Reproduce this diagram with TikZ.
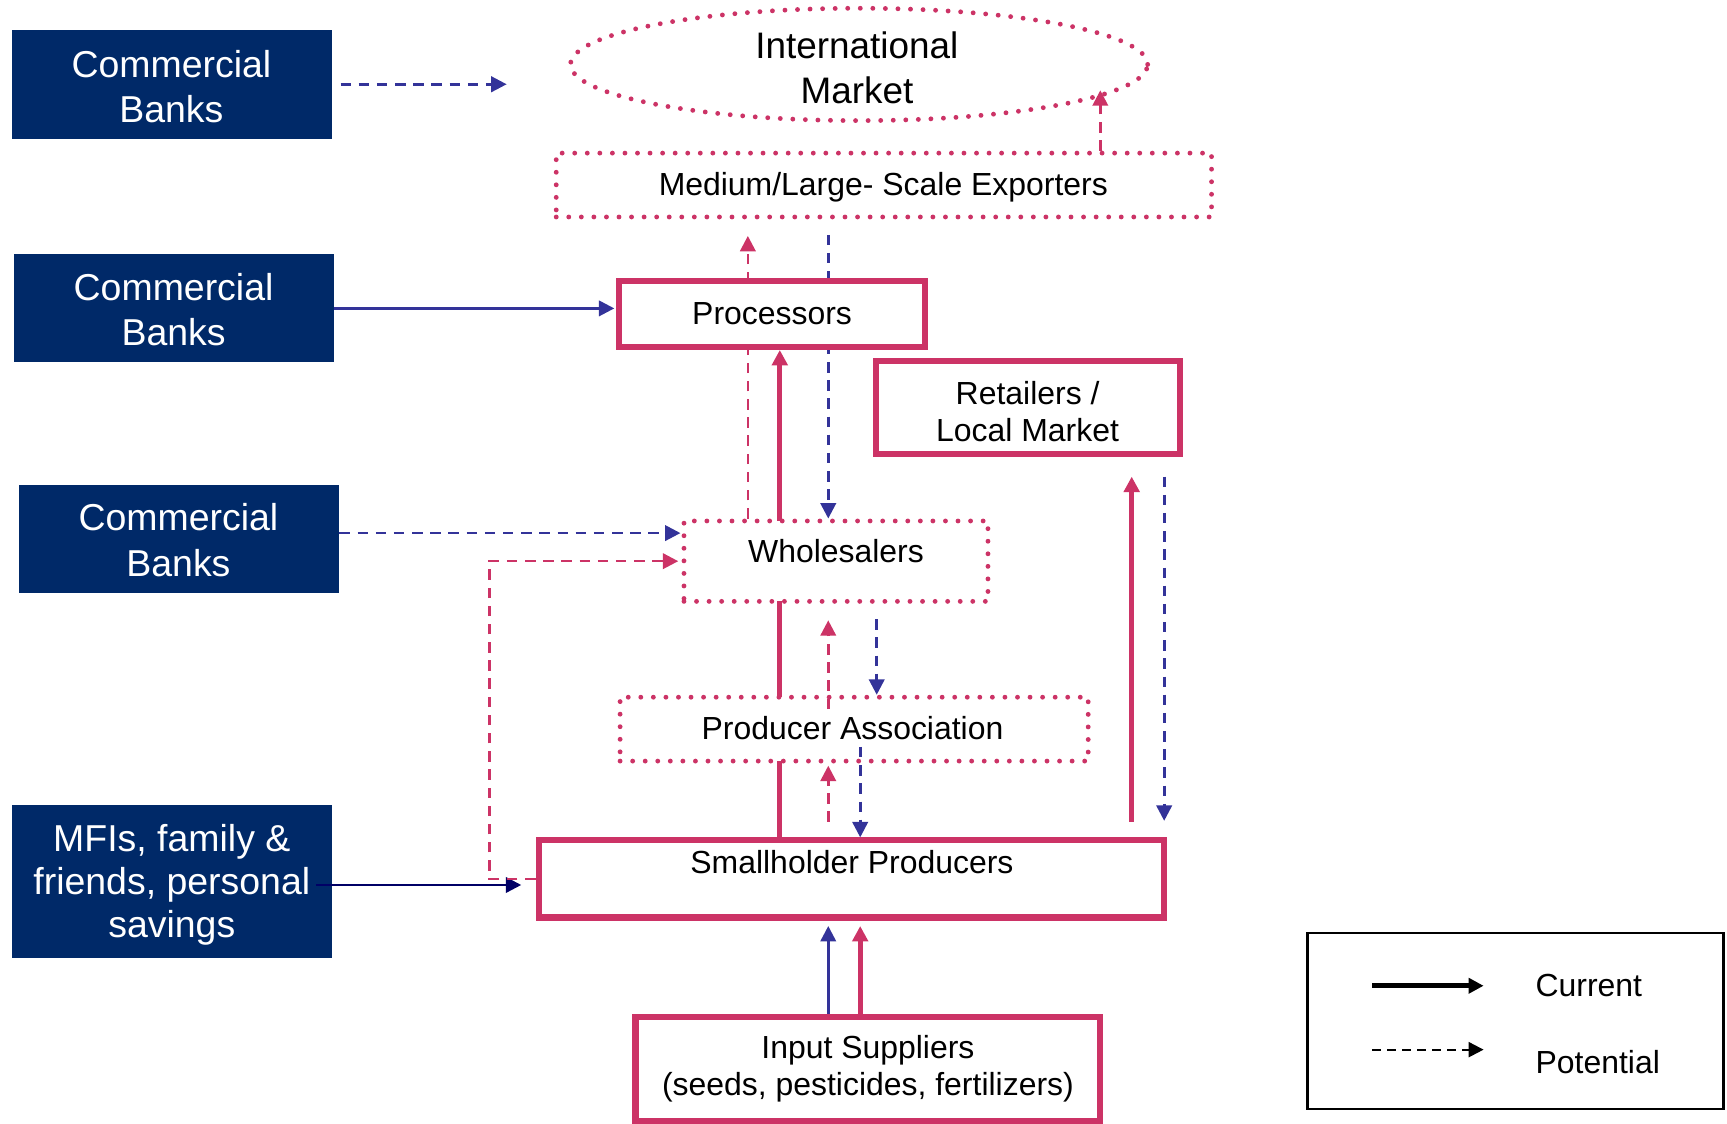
\documentclass[tikz,border=0pt]{standalone}
\usepackage{fontspec}
\setmainfont{Liberation Sans}
\usetikzlibrary{arrows.meta,shapes.geometric,calc}
\pgfdeclarelayer{back}
\pgfsetlayers{back,main}
\definecolor{bank}{RGB}{0,41,104}
\definecolor{chain}{RGB}{204,51,102}
\definecolor{flow}{RGB}{51,51,153}
\definecolor{deepnavy}{RGB}{0,0,102}
\tikzset{
  bankbox/.style={draw=none, fill=bank, inner sep=0pt},
  solidbox/.style={draw=chain, line width=5.5pt, fill=white, inner sep=0pt},
  dotbox/.style={draw=chain, line width=4.4pt, line cap=round, dash pattern=on 0pt off 11.4pt, fill=white, inner sep=0pt},
  banktext/.style={text=white, inner sep=0pt, align=center, font=\fontsize{34}{41}\selectfont},
  boxtext/.style={inner sep=0pt, align=center, font=\fontsize{29}{34}\selectfont},
  keytext/.style={anchor=base west, inner sep=0pt, font=\fontsize{29}{34}\selectfont},
  tip/.style={-{Triangle[length=14pt,width=14pt]}},
  current/.style={tip, line width=4.5pt},
  thinline/.style={tip, line width=2.3pt},
  potential/.style={tip, line width=2.4pt, dash pattern=on 9.5pt off 7pt},
}
\begin{document}
\begin{tikzpicture}[x=1pt,y=-1pt]
\useasboundingbox (0,0) rectangle (1568,1020);

% finance sources
\node[bankbox, minimum width=290pt, minimum height=99pt] (cb1) at (156,76.5) {};
\node[bankbox, minimum width=290pt, minimum height=98pt] (cb2) at (158,280) {};
\node[bankbox, minimum width=291pt, minimum height=98pt] (cb3) at (162.5,489) {};
\node[bankbox, minimum width=290pt, minimum height=139pt] (mfi) at (156,800.5) {};
\node[banktext] (cb1t) at (155.6,82.3) {Commercial\strut\\Banks\strut};
\node[banktext] (cb2t) at (157.6,285.3) {Commercial\strut\\Banks\strut};
\node[banktext] (cb3t) at (162,494.3) {Commercial\strut\\Banks\strut};
\node[banktext, font=\fontsize{34}{39}\selectfont] (mfit) at (156,804.6)
  {MFIs, family \&\strut\\friends, personal\strut\\savings\strut};

% value chain actors
\node[ellipse, dotbox, minimum width=524pt, minimum height=102pt] (im) at (780,58.5) {};
\node[dotbox, minimum width=595pt, minimum height=58pt] (exp) at (802.5,168) {};
\node[solidbox, minimum width=278pt, minimum height=60pt] (proc) at (701,285) {};
\node[solidbox, minimum width=276pt, minimum height=84pt] (ret) at (933,370) {};
\node[dotbox, minimum width=276pt, minimum height=73pt] (whl) at (759,509.5) {};
\node[dotbox, minimum width=425pt, minimum height=58pt] (pa) at (775.5,662) {};
\node[solidbox, minimum width=568pt, minimum height=70pt] (sh) at (773,798) {};
\node[solidbox, minimum width=422pt, minimum height=95pt] (is) at (788,970.5) {};

\node[boxtext, font=\fontsize{33.5}{41}\selectfont] (imt) at (778,65) {International\strut\\Market\strut};
\node[boxtext] (expt) at (802,170.5) {Medium/Large- Scale Exporters\strut};
\node[boxtext] (proct) at (701,287.5) {Processors\strut};
\node[boxtext] (rett) at (933,377) {Retailers /\strut\\Local Market\strut};
\node[boxtext] (whlt) at (759,504) {Wholesalers\strut};
\node[boxtext] (pat) at (774,664.5) {Producer Association\strut};
\node[boxtext] (sht) at (773.5,786) {Smallholder Producers\strut};
\node[boxtext, font=\fontsize{29}{33.5}\selectfont] (ist) at (788,971.5)
  {Input Suppliers\strut\\(seeds, pesticides, fertilizers)\strut};

% columns used by the vertical flows
\coordinate (cA) at (679,0);
\coordinate (cB) at (752,0);
\coordinate (cC) at (708,0);
\coordinate (cD) at (796,0);
\coordinate (cE) at (781,0);
\coordinate (cF) at (1027.5,0);
\coordinate (cG) at (1057,0);
\coordinate (cH) at (999,0);
\coordinate (imtip) at (999,82);
\coordinate (banktip) at (460,76.5);

% flows hidden behind the boxes they cross
\begin{pgfonlayer}{back}
\draw[potential, chain, shorten >=15pt] (whl.north -| cA) -- (exp.south -| cA);
\draw[potential, flow, shorten <=14pt] (exp.south -| cB) -- (whl.north -| cB);
\draw[current, chain] (sh.north -| cC) -- (proc.south -| cC);
\end{pgfonlayer}

% finance flows
\draw[potential, flow] ([xshift=8pt]cb1.east) -- (banktip);
\draw[thinline, flow, shorten >=1.5pt] (cb2.east) -- (cb2.east -| proc.west);
\draw[potential, flow, shorten >=1pt] ([yshift=5pt]cb3.east) -- ([yshift=5pt]cb3.east -| whl.west);
\draw[thinline, deepnavy, shorten <=-14pt, shorten >=13pt]
  ([yshift=-3pt]mfi.east) -- ([yshift=-3pt]mfi.east -| sh.west);
\draw[potential, chain, shorten >=3pt] (sh.west) -- ++(-42,0) |- (whl.west);

% product flows
\draw[potential, chain] (exp.north -| cH) -- (imtip);
\draw[potential, flow, shorten <=14pt] (whl.south -| cD) -- (pa.north -| cD);
\draw[potential, chain, shorten >=15pt] ($(pa.north -| cB)+(0,13)$) -- (whl.south -| cB);
\draw[potential, chain, shorten <=14pt, shorten >=2pt] (sh.north -| cB) -- (pa.south -| cB);
\draw[potential, flow] ($(pa.south -| cE)+(0,-15)$) -- (sh.north -| cE);
\draw[current, chain, shorten <=14pt, shorten >=18pt] (sh.north -| cF) -- (ret.south -| cF);
\draw[potential, flow, shorten <=18pt, shorten >=15pt] (ret.south -| cG) -- (sh.north -| cG);
\draw[thinline, flow, shorten >=5pt] (is.north -| cB) -- (sh.south -| cB);
\draw[current, chain, shorten >=5pt] (is.north -| cE) -- (sh.south -| cE);

% key
\node[draw=black, line width=2.4pt, minimum width=378pt, minimum height=160pt, inner sep=0pt] (key) at (1376,927) {};
\coordinate (k1a) at (1246,895);
\coordinate (k1b) at (1347,895);
\coordinate (k2a) at (1246,953);
\coordinate (k2b) at (1347,953);
\draw[-{Triangle[length=13.6pt,width=13.6pt]}, line width=4.2pt] (k1a) -- (k1b);
\draw[-{Triangle[length=13.6pt,width=13.6pt]}, line width=2pt, dash pattern=on 7.6pt off 6pt] (k2a) -- (k2b);
\node[keytext] (curt) at (1394,905) {Current};
\node[keytext] (pott) at (1394,975) {Potential};
\end{tikzpicture}
\end{document}
